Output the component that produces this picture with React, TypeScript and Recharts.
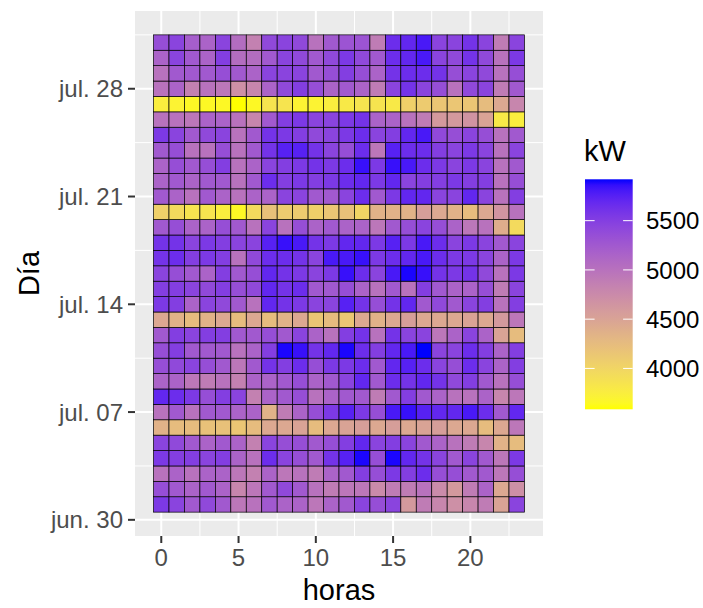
import React from 'react';
import { ScatterChart, Scatter, XAxis, YAxis, CartesianGrid, Label } from 'recharts';

// ---------- data ----------
const hours = [0, 1, 2, 3, 4, 5, 6, 7, 8, 9, 10, 11, 12, 13, 14, 15, 16, 17, 18, 19, 20, 21, 22, 23];
const dayNums = [1, 2, 3, 4, 5, 6, 7, 8, 9, 10, 11, 12, 13, 14, 15, 16, 17, 18, 19, 20, 21, 22, 23, 24, 25, 26, 27, 28, 29, 30, 31];
const xTicks = [0, 5, 10, 15, 20];
const xMinor = [2.5, 7.5, 12.5, 17.5, 22.5];
const yTicks = [0, 7, 14, 21, 28];
const yMinor = [3.5, 10.5, 17.5, 24.5, 31.5];
const yTickLabels = ['jun. 30', 'jul. 07', 'jul. 14', 'jul. 21', 'jul. 28'];
const legendBreaks = [4000, 4500, 5000, 5500];

const jul01 = [5550, 5450, 5250, 5400, 5250, 4950, 5000, 5250, 5150, 5150, 4950, 5150, 5250, 5450, 5350, 5450, 4600, 4900, 4800, 4700, 4800, 4900, 4500, 5450];
const jul02 = [5350, 5250, 5150, 5250, 5150, 4800, 4950, 5250, 5400, 5250, 5000, 4900, 4950, 4950, 4750, 4900, 4900, 5000, 4750, 4600, 4900, 5150, 4450, 4700];
const jul03 = [5000, 5150, 5000, 5150, 5150, 4950, 4850, 5150, 4950, 5000, 4900, 5150, 5250, 5500, 5350, 5550, 5500, 5650, 5350, 5350, 5250, 5250, 4950, 5350];
const jul04 = [5550, 5500, 5500, 5450, 5500, 5150, 5000, 5650, 5450, 5350, 5250, 5600, 5750, 5900, 5350, 5900, 5700, 5600, 5450, 5250, 5450, 5250, 4950, 5550];
const jul05 = [5450, 5400, 5250, 5150, 5250, 5150, 4850, 5450, 5350, 5350, 5250, 5350, 5500, 5700, 5450, 5500, 5450, 5250, 5150, 5000, 4900, 4800, 4350, 4250];
const jul06 = [4350, 4250, 4250, 4200, 4200, 4150, 4250, 4450, 4450, 4500, 4250, 4450, 4500, 4550, 4450, 4550, 4450, 4500, 4550, 4450, 4450, 4250, 4450, 4950];
const jul07 = [5000, 5250, 5000, 5250, 5250, 5150, 5150, 4350, 4900, 5150, 5350, 5550, 5750, 5550, 5350, 5800, 5850, 5750, 5700, 5700, 5800, 5650, 5250, 5700];
const jul08 = [5700, 5650, 5550, 5350, 5500, 5450, 4850, 5150, 5250, 5350, 5000, 5150, 5250, 5250, 4900, 5250, 5500, 5250, 5150, 5000, 5000, 5150, 4800, 4950];
const jul09 = [5150, 5150, 4950, 4900, 5000, 4850, 5150, 5150, 5250, 5350, 5150, 5250, 5450, 5700, 5250, 5650, 5600, 5700, 5600, 5400, 5500, 5250, 5000, 5350];
const jul10 = [5350, 5400, 5450, 5350, 5250, 4950, 5250, 5600, 5500, 5650, 5350, 5550, 5550, 5650, 5250, 5700, 5750, 5650, 5450, 5350, 5650, 5450, 5150, 5500];
const jul11 = [5350, 5500, 5250, 5250, 5250, 5000, 5150, 5500, 5900, 5850, 5600, 5700, 5900, 5650, 5500, 5700, 5800, 5920, 5450, 5450, 5650, 5500, 5150, 5500];
const jul12 = [5250, 5500, 5450, 5500, 5500, 5250, 5250, 5350, 5250, 5450, 5150, 5000, 5500, 5600, 5000, 5600, 5450, 5450, 4950, 5150, 5450, 5150, 4500, 4250];
const jul13 = [4450, 4350, 4250, 4350, 4450, 4250, 4450, 4250, 4350, 4450, 4150, 4250, 4150, 4450, 4350, 4450, 4550, 4450, 4450, 4450, 4500, 4450, 4600, 4950];
const jul14 = [5550, 5500, 5150, 5450, 5400, 5250, 5000, 5700, 5600, 5550, 5450, 5450, 5750, 5600, 5350, 5600, 5700, 5250, 5400, 5250, 5450, 5500, 5000, 5500];
const jul15 = [5500, 5500, 5450, 5400, 5500, 5350, 5400, 5700, 5600, 5650, 5250, 5250, 5350, 5150, 5000, 5250, 5000, 5500, 5250, 5150, 5150, 5350, 4900, 5450];
const jul16 = [5450, 5350, 5250, 5150, 5500, 5250, 5350, 5700, 5600, 5550, 5450, 5550, 5850, 5650, 5450, 5800, 5900, 5850, 5600, 5550, 5600, 5400, 5000, 5550];
const jul17 = [5600, 5650, 5500, 5550, 5500, 5000, 5400, 5650, 5650, 5600, 5450, 5800, 5800, 5850, 5550, 5650, 5700, 5800, 5650, 5550, 5550, 5450, 5150, 5550];
const jul18 = [5600, 5600, 5450, 5550, 5500, 5450, 5450, 5750, 5850, 5800, 5600, 5550, 5700, 5700, 5550, 5750, 5550, 5800, 5650, 5450, 5550, 5450, 5250, 5450];
const jul19 = [5250, 5350, 5150, 5150, 5350, 5250, 5000, 5450, 5000, 5350, 5150, 5250, 5150, 5150, 4950, 5250, 5350, 5450, 5350, 5150, 4950, 5000, 4400, 3950];
const jul20 = [4050, 3950, 3850, 3850, 3750, 3650, 3950, 4200, 4100, 4100, 4050, 4150, 4200, 4000, 4350, 4350, 4350, 4550, 4450, 4350, 4250, 4450, 4650, 5000];
const jul21 = [5250, 5150, 5000, 5250, 5150, 5000, 5150, 5150, 5450, 5450, 5250, 5250, 5450, 5650, 5250, 5550, 5700, 5700, 5450, 5450, 5700, 5450, 5000, 5500];
const jul22 = [5150, 5250, 5150, 5250, 5250, 5000, 5250, 5650, 5500, 5550, 5500, 5550, 5650, 5700, 5550, 5700, 5450, 5500, 5500, 5550, 5500, 5500, 5000, 5350];
const jul23 = [5150, 5350, 5250, 5350, 5500, 5000, 5150, 5450, 5500, 5550, 5600, 5550, 5650, 5850, 5550, 5850, 5800, 5650, 5550, 5450, 5550, 5450, 5000, 5250];
const jul24 = [5250, 5350, 5000, 5000, 5350, 5000, 5250, 5600, 5750, 5750, 5600, 5450, 5350, 5650, 4950, 5750, 5650, 5650, 5500, 5450, 5550, 5450, 5000, 5450];
const jul25 = [5550, 5450, 5250, 5400, 5450, 5000, 5250, 5600, 5550, 5500, 5400, 5450, 5550, 5650, 5450, 5500, 5700, 5800, 5400, 5350, 5450, 5350, 5000, 5250];
const jul26 = [5000, 5000, 4950, 5150, 5150, 5000, 4800, 5250, 5500, 5550, 5450, 5450, 5550, 5600, 5150, 5150, 5000, 4900, 4600, 4600, 4650, 4500, 3800, 3750];
const jul27 = [3750, 3700, 3650, 3650, 3650, 3585, 3650, 3850, 3850, 3700, 3700, 3750, 3800, 3850, 3850, 3800, 4050, 4100, 4150, 4150, 4150, 4250, 4450, 4800];
const jul28 = [5000, 5150, 4850, 5000, 4950, 4700, 4800, 5150, 5400, 5500, 5350, 5150, 5250, 5150, 4900, 5450, 5600, 5450, 5350, 5000, 5400, 5450, 4900, 5250];
const jul29 = [5000, 5250, 5250, 5250, 5350, 5250, 5150, 5450, 5450, 5450, 5250, 5350, 5500, 5350, 5150, 5600, 5650, 5650, 5600, 5350, 5450, 5400, 5000, 5350];
const jul30 = [5150, 5450, 5250, 5150, 5500, 5050, 5050, 5250, 5450, 5400, 5250, 5400, 5550, 5400, 5250, 5650, 5700, 5800, 5450, 5400, 5600, 5400, 5000, 5550];
const jul31 = [5350, 5450, 5200, 5150, 5450, 5050, 4850, 5400, 5450, 5400, 5000, 5250, 5300, 5300, 4900, 5650, 5700, 5800, 5450, 5450, 5600, 5450, 4900, 5450];

const dayRows = [jul01, jul02, jul03, jul04, jul05, jul06, jul07, jul08, jul09, jul10, jul11, jul12, jul13, jul14, jul15, jul16, jul17, jul18, jul19, jul20, jul21, jul22, jul23, jul24, jul25, jul26, jul27, jul28, jul29, jul30, jul31];

const tableData = dayRows.flatMap((row, i) => row.map((kw, h) => ({ hour: hours[h], day: dayNums[i], kw })));
const allValues = tableData.map((d) => d.kw);
const vMin = Math.min(...allValues);
const vMax = Math.max(...allValues);

// ---------- colour (Lab interpolation yellow -> blue, like ggplot) ----------
const WX = 0.95047, WY = 1.0, WZ = 1.08883;
function toLin(c: number) { c /= 255; return c <= 0.04045 ? c / 12.92 : Math.pow((c + 0.055) / 1.055, 2.4); }
function fromLin(c: number) {
  const v = c <= 0.0031308 ? 12.92 * c : 1.055 * Math.pow(Math.max(c, 0), 1 / 2.4) - 0.055;
  return Math.round(Math.max(0, Math.min(1, v)) * 255);
}
function fLab(t: number) { return t > 0.008856 ? Math.cbrt(t) : 7.787 * t + 16 / 116; }
function fInv(t: number) { const t3 = t * t * t; return t3 > 0.008856 ? t3 : (t - 16 / 116) / 7.787; }
function rgbToLab(r: number, g: number, b: number) {
  const R = toLin(r), G = toLin(g), B = toLin(b);
  const X = (0.4124564 * R + 0.3575761 * G + 0.1804375 * B) / WX;
  const Y = (0.2126729 * R + 0.7151522 * G + 0.072175 * B) / WY;
  const Z = (0.0193339 * R + 0.119192 * G + 0.9503041 * B) / WZ;
  const fx = fLab(X), fy = fLab(Y), fz = fLab(Z);
  return [116 * fy - 16, 500 * (fx - fy), 200 * (fy - fz)];
}
function labToHex(L: number, a: number, b: number) {
  const fy = (L + 16) / 116, fx = fy + a / 500, fz = fy - b / 200;
  const X = fInv(fx) * WX, Y = fInv(fy) * WY, Z = fInv(fz) * WZ;
  const R = 3.2404542 * X - 1.5371385 * Y - 0.4985314 * Z;
  const G = -0.969266 * X + 1.8760108 * Y + 0.041556 * Z;
  const B = 0.0556434 * X - 0.2040259 * Y + 1.0572252 * Z;
  const h = (n: number) => fromLin(n).toString(16).padStart(2, '0');
  return '#' + h(R) + h(G) + h(B);
}
const LOW = rgbToLab(255, 255, 0);
const HIGH = rgbToLab(0, 0, 255);
function colorFor(v: number) {
  const t = Math.max(0, Math.min(1, (v - vMin) / (vMax - vMin)));
  return labToHex(LOW[0] + t * (HIGH[0] - LOW[0]), LOW[1] + t * (HIGH[1] - LOW[1]), LOW[2] + t * (HIGH[2] - LOW[2]));
}

// ---------- layout ----------
const W = 703, H = 608;
const PLOT_L = 135, PLOT_R = 543, PLOT_T = 11, PLOT_B = 536;
const xDomain: [number, number] = [-1.7, 24.7];
const yDomain: [number, number] = [-1.05, 33.05];
const tileW = (PLOT_R - PLOT_L) / (xDomain[1] - xDomain[0]);
const tileH = (PLOT_B - PLOT_T) / (yDomain[1] - yDomain[0]);
const FONT = "'Liberation Sans', Arial, Helvetica, sans-serif";
const TICK_FS = 24;

const Tile = (p: any) => {
  const { cx, cy, payload } = p;
  if (cx == null || cy == null) return null;
  return (
    <rect x={cx - tileW / 2} y={cy - tileH / 2} width={tileW} height={tileH}
      fill={colorFor(payload.kw)} stroke="#000000" strokeWidth={0.7} />
  );
};

const YTick = (p: any) => {
  const idx = yTicks.indexOf(p.payload.value);
  return (
    <text x={p.x} y={p.y} dy="0.36em" textAnchor="end" fill="#4D4D4D" fontSize={TICK_FS} fontFamily={FONT}>
      {idx >= 0 ? yTickLabels[idx] : ''}
    </text>
  );
};
const XTick = (p: any) => (
  <text x={p.x} y={p.y} dy="0.93em" textAnchor="middle" fill="#4D4D4D" fontSize={TICK_FS} fontFamily={FONT}>
    {p.payload.value}
  </text>
);

const scaleOr = (axis: any, v: number, fallback: number) => {
  if (axis && typeof axis.scale === 'function') return axis.scale(v);
  return fallback;
};

const legendY = (v: number) => 409.3 - ((v - vMin) / (vMax - vMin)) * 230;
const gradStops = Array.from({ length: 41 }, (_, i) => i / 40);

export default function App() {
  return (
    <div style={{ position: 'absolute', left: 0, top: 0, width: W, height: H, background: '#FFFFFF' }}>
      <ScatterChart width={W} height={H} margin={{ top: PLOT_T, right: W - PLOT_R, bottom: 0, left: 0 }}>
        <CartesianGrid fill="#EBEBEB" stroke="#FFFFFF" strokeWidth={2}
          horizontalCoordinatesGenerator={(props: any) =>
            yTicks.map((v) => scaleOr(props.yAxis, v, PLOT_B - (v - yDomain[0]) * tileH))}
          verticalCoordinatesGenerator={(props: any) =>
            xTicks.map((v) => scaleOr(props.xAxis, v, PLOT_L + (v - xDomain[0]) * tileW))} />
        <CartesianGrid fill="none" stroke="#FFFFFF" strokeWidth={1}
          horizontalCoordinatesGenerator={(props: any) =>
            yMinor.map((v) => scaleOr(props.yAxis, v, PLOT_B - (v - yDomain[0]) * tileH))}
          verticalCoordinatesGenerator={(props: any) =>
            xMinor.map((v) => scaleOr(props.xAxis, v, PLOT_L + (v - xDomain[0]) * tileW))} />
        <XAxis type="number" dataKey="hour" domain={xDomain} ticks={xTicks} interval={0}
          allowDataOverflow height={H - PLOT_B} axisLine={false}
          tickLine={{ stroke: '#333333', strokeWidth: 2 }} tickSize={7} tickMargin={1} tick={<XTick />}>
          <Label content={(lp: any) => {
            const vb = lp.viewBox || { x: PLOT_L, y: PLOT_B, width: PLOT_R - PLOT_L };
            return (
              <text x={vb.x + vb.width / 2} y={vb.y + 64} textAnchor="middle" fill="#000000" fontSize={29} fontFamily={FONT}>horas</text>
            );
          }} />
        </XAxis>
        <YAxis type="number" dataKey="day" domain={yDomain} ticks={yTicks} interval={0}
          allowDataOverflow width={PLOT_L} axisLine={false}
          tickLine={{ stroke: '#333333', strokeWidth: 2 }} tickSize={7} tickMargin={5} tick={<YTick />}>
          <Label content={(lp: any) => {
            const vb = lp.viewBox || { x: 0, y: PLOT_T, height: PLOT_B - PLOT_T };
            const cy = vb.y + vb.height / 2;
            return (
              <text x={38.5} y={cy} transform={`rotate(-90, 38.5, ${cy})`} textAnchor="middle" fill="#000000" fontSize={29} fontFamily={FONT}>Día</text>
            );
          }} />
        </YAxis>
        <Scatter data={tableData} isAnimationActive={false} shape={(p: any) => <Tile {...p} />} />
      </ScatterChart>
      <svg width={W} height={H} style={{ position: 'absolute', left: 0, top: 0, pointerEvents: 'none' }}>
        <defs>
          <linearGradient id="kwgrad" x1="0" y1="1" x2="0" y2="0">
            {gradStops.map((t) => (
              <stop key={t} offset={t} stopColor={colorFor(vMin + t * (vMax - vMin))} />
            ))}
          </linearGradient>
        </defs>
        <text x={584} y={161} fill="#000000" fontSize={29} fontFamily={FONT}>kW</text>
        <rect x={585} y={179.3} width={47.7} height={230} fill="url(#kwgrad)" />
        {legendBreaks.map((b) => (
          <g key={b}>
            <line x1={585} x2={594.6} y1={legendY(b)} y2={legendY(b)} stroke="#FFFFFF" strokeWidth={1} />
            <line x1={623.1} x2={632.7} y1={legendY(b)} y2={legendY(b)} stroke="#FFFFFF" strokeWidth={1} />
            <text x={646} y={legendY(b)} dy="0.36em" fill="#000000" fontSize={TICK_FS} fontFamily={FONT}>{b}</text>
          </g>
        ))}
      </svg>
    </div>
  );
}
